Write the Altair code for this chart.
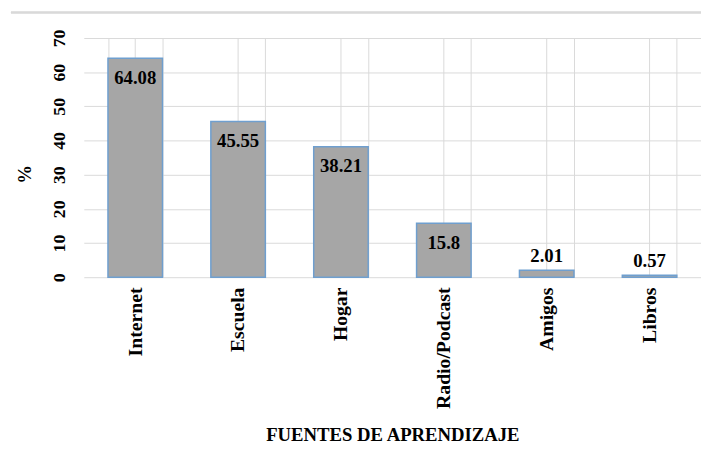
import altair as alt
import pandas as pd

categorias = ["Internet", "Escuela", "Hogar", "Radio/Podcast", "Amigos", "Libros"]
porcentajes = [64.08, 45.55, 38.21, 15.8, 2.01, 0.57]
y_ticks = [0, 10, 20, 30, 40, 50, 60, 70]

df = pd.DataFrame({"cat": categorias, "pct": porcentajes})

W = 627
H = 243
FONT = "Liberation Serif"
GRID = "#d9d9d9"

xscale = alt.Scale(domain=categorias, paddingInner=0.47, paddingOuter=0.235)
yscale = alt.Scale(domain=[0, 70], nice=False)

xaxis = alt.Axis(title="FUENTES DE APRENDIZAJE", labelAngle=270,
                 labelAlign="right", labelBaseline="middle",
                 labelPadding=10, labelFont=FONT, labelFontSize=20,
                 labelFontWeight="bold", labelColor="black",
                 titleFont=FONT, titleFontSize=19, titleFontWeight="bold",
                 titleColor="black", titlePadding=18,
                 domain=False, ticks=False, grid=True, gridColor=GRID,
                 tickBand="extent")
yaxis = alt.Axis(title="%", values=y_ticks, labelAngle=270,
                 labelAlign="center", labelBaseline="middle",
                 labelPadding=25, labelFont=FONT, labelFontSize=18,
                 labelFontWeight="bold", labelColor="black",
                 labelOverlap=False,
                 titleFont=FONT, titleFontSize=19, titleFontWeight="bold",
                 titleColor="black", titleAngle=270, titleX=-60, titleY=138,
                 titleAlign="center", titleBaseline="middle",
                 domain=False, ticks=False, tickSize=0, grid=True, gridColor=GRID)

X = alt.X("cat:N", scale=xscale, sort=categorias, axis=xaxis)
Y = alt.Y("pct:Q", scale=yscale, axis=yaxis)

base = alt.Chart(df)

bars = base.mark_bar(color="#a6a6a6", stroke="#6f9fcf", strokeWidth=1.5).encode(
    x=X, y=Y,
)

center_grid = base.mark_rule(color=GRID, strokeWidth=1).encode(
    x=X, y=alt.value(0), y2=alt.value(H),
)

labels_in = base.transform_filter(alt.datum.pct > 10).mark_text(
    font=FONT, fontSize=19, fontWeight="bold", color="black",
    baseline="middle", dy=20).encode(
    x=X, y=Y, text=alt.Text("pct:Q"),
)

labels_out = base.transform_filter(alt.datum.pct <= 10).mark_text(
    font=FONT, fontSize=19, fontWeight="bold", color="black",
    baseline="middle", dy=-14).encode(
    x=X, y=Y, text=alt.Text("pct:Q"),
)

top_line = base.mark_rule(color=GRID, strokeWidth=1.5).encode(
    x=alt.value(-74), x2=alt.value(W), y=alt.value(-26)
)

chart = alt.layer(center_grid, bars, labels_in, labels_out, top_line).properties(
    width=W, height=H,
    autosize=alt.AutoSizeParams(type="none"),
    padding={"left": 77, "top": 27, "right": 0, "bottom": 170},
    background="white",
).configure_view(stroke=None)

chart.save("out.html", embed_options={"renderer": "svg", "actions": False})
